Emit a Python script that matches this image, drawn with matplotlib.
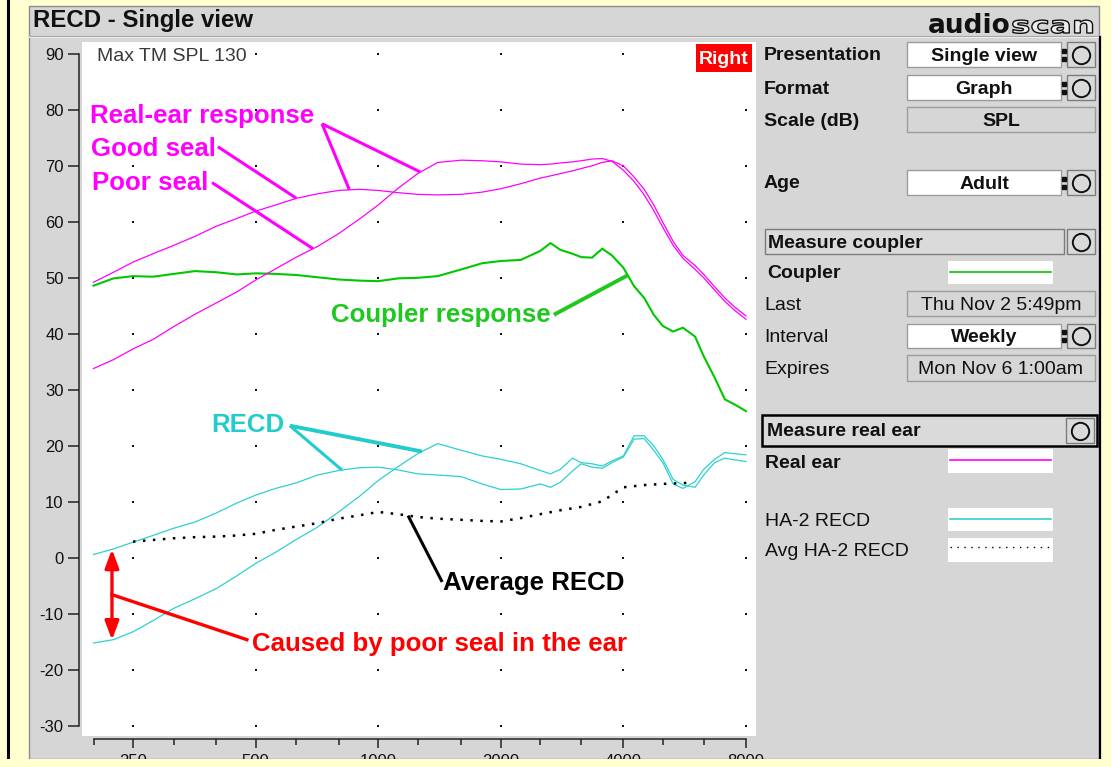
import numpy as np
import matplotlib
matplotlib.use("Agg")
import matplotlib.pyplot as plt
from matplotlib.patches import Rectangle, PathPatch
from matplotlib.lines import Line2D
from matplotlib.ticker import NullFormatter
from matplotlib.textpath import TextPath
from matplotlib.font_manager import FontProperties
from matplotlib.transforms import Affine2D

plt.rcParams['font.family'] = ['Liberation Sans', 'DejaVu Sans']
plt.rcParams['axes.unicode_minus'] = False

W, H = 1111, 767

# measurement frequencies (Hz)
freq = [200, 224, 250, 280, 315, 355, 400, 450, 500, 560,
        630, 710, 800, 900, 1000, 1120, 1250, 1400, 1600, 1800,
        2000, 2240, 2500, 2650, 2800, 3000, 3150, 3350, 3550, 3750,
        4000, 4250, 4500, 4750, 5000, 5300, 5600, 6000, 6300, 6700,
        7100, 7500, 8000]

# HA-2 coupler response (dB SPL)
coupler = [48.6, 49.9, 50.3, 50.2, 50.7, 51.2, 51.0, 50.6, 50.8, 50.7,
           50.5, 50.1, 49.7, 49.5, 49.4, 49.9, 50.0, 50.3, 51.5, 52.6,
           53.0, 53.2, 54.8, 56.2, 55.0, 54.3, 53.7, 53.6, 55.2, 54.0,
           51.8, 48.5, 46.4, 43.4, 41.4, 40.4, 41.1, 39.5, 36.0, 32.2,
           28.3, 27.4, 26.2]

# real-ear responses (dB SPL)
ear_good = [49.2, 51.0, 52.8, 54.3, 55.8, 57.4, 59.2, 60.6, 61.9, 63.0,
            64.2, 65.0, 65.6, 65.8, 65.6, 65.2, 64.9, 64.8, 64.9, 65.3,
            65.9, 66.8, 67.8, 68.2, 68.6, 69.1, 69.5, 70.0, 70.6, 70.9,
            70.0, 68.0, 65.8, 63.0, 59.9, 56.5, 54.0, 52.2, 50.6, 48.4,
            46.4, 44.8, 43.2]
ear_poor = [33.8, 35.4, 37.3, 39.0, 41.3, 43.5, 45.5, 47.5, 49.6, 51.6,
            53.7, 55.6, 57.9, 60.5, 63.0, 66.0, 68.6, 70.6, 71.0, 70.9,
            70.7, 70.3, 70.2, 70.3, 70.5, 70.7, 70.9, 71.2, 71.3, 70.8,
            69.2, 67.2, 64.8, 62.0, 59.0, 55.8, 53.5, 51.5, 50.0, 47.8,
            45.8, 44.2, 42.6]

# measured RECDs (dB)
recd_good = [0.6, 1.6, 2.8, 4.0, 5.3, 6.4, 8.0, 9.8, 11.2, 12.4,
             13.4, 14.8, 15.6, 16.1, 16.2, 15.7, 15.0, 14.8, 14.5, 13.2,
             12.2, 12.3, 13.2, 12.6, 13.5, 15.5, 16.8, 16.2, 16.0, 17.0,
             18.0, 21.2, 21.3, 19.2, 17.0, 13.2, 12.4, 13.6, 15.8, 17.6,
             18.8, 18.6, 18.4]
recd_poor = [-15.2, -14.6, -13.2, -11.2, -9.0, -7.3, -5.5, -3.2, -1.0, 1.0,
             3.3, 5.5, 8.2, 11.0, 13.8, 16.3, 18.6, 20.4, 19.2, 18.2,
             17.6, 16.8, 15.6, 15.0, 15.8, 17.8, 17.0, 16.8, 16.4, 17.3,
             18.2, 21.8, 21.8, 20.0, 17.6, 14.0, 13.0, 12.6, 14.8, 17.0,
             17.8, 17.5, 17.2]

# average HA-2 RECD
avg_freq = [250, 280, 315, 355, 400, 450, 500, 560, 630, 710,
            800, 900, 1000, 1120, 1250, 1400, 1600, 1800, 2000, 2240,
            2500, 2800, 3150, 3550, 4000, 4500, 5000, 5800]
avg_recd = [2.9, 3.2, 3.5, 3.7, 3.8, 4.0, 4.3, 5.0, 5.6, 6.2,
            7.0, 7.6, 8.2, 7.8, 7.3, 7.0, 6.8, 6.6, 6.5, 7.1,
            7.8, 8.5, 9.1, 10.1, 12.6, 13.0, 13.2, 13.4]

y_ticks = list(range(-30, 91, 10))
x_major = [250, 500, 1000, 2000, 4000, 8000]
x_minor = [200, 315, 400, 630, 800, 1250, 1600, 2500, 3150, 5000, 6300]

YELLOW = '#FFFFD0'
GRAY = '#D6D6D6'
MAGENTA = '#FF00FF'
CYAN = '#2ED0D0'
GREEN = '#00C800'

fig = plt.figure(figsize=(W / 100, H / 100), dpi=100, facecolor=YELLOW)


def fx(x):
    return x / W


def fy(y):
    return 1 - y / H


def frect(x0, y0, x1, y1, **kw):
    r = Rectangle((fx(x0), fy(y1)), (x1 - x0) / W, (y1 - y0) / H,
                  transform=fig.transFigure, **kw)
    fig.add_artist(r)
    return r


def fline(xs, ys, **kw):
    fig.add_artist(Line2D([fx(x) for x in xs], [fy(y) for y in ys],
                          transform=fig.transFigure, **kw))


def ftext(x, y, s, **kw):
    # text is placed slightly low so that its letters sit centred on y
    kw.setdefault('va', 'center')
    kw.setdefault('color', '#111111')
    return fig.text(fx(x), fy(y + 2), s, **kw)


# instrument frame
frect(29, 6, 1099, 759, facecolor=GRAY, edgecolor='#8C8C8C', lw=1, zorder=-5)
fline([7.5, 7.5], [0, 760], color='black', lw=2.2, zorder=-4)
fline([1099.5, 1099.5], [37, 760], color='black', lw=1.6, zorder=-4)
fline([30, 1098], [37, 37], color='#F6F6F6', lw=1.2, zorder=-4)
fline([30, 1098], [36, 36], color='#A8A8A8', lw=0.8, zorder=-4)
ftext(33, 19, 'RECD - Single view', fontsize=17.3, fontweight='bold')

# logo
fig.text(fx(928), fy(33), 'audio', va='baseline', fontsize=19, fontweight='bold',
         family='DejaVu Sans', color='#111111')
scan = TextPath((0, 0), 'scan', size=23,
                prop=FontProperties(family='DejaVu Sans', weight='bold'))
fig.add_artist(PathPatch(scan, transform=Affine2D().scale(1.42, 1.0).translate(1011, H - 33),
                         facecolor='#EDEDED', edgecolor='#111111', lw=1.0))

# graph
ax = fig.add_axes([fx(82), fy(736), (756 - 82) / W, (736 - 42) / H], facecolor='white')
ax.set_xscale('log')
ax.set_xlim(187.4, 8467)
ax.set_ylim(-31.8, 92.1)
for side in ('top', 'right'):
    ax.spines[side].set_visible(False)
for side in ('left', 'bottom'):
    ax.spines[side].set_position(('outward', 2.2))
    ax.spines[side].set_color('#222222')
    ax.spines[side].set_linewidth(1.1)
ax.spines['left'].set_bounds(-30, 90)
ax.spines['bottom'].set_bounds(200, 8000)
ax.set_yticks(y_ticks)
ax.set_xticks(x_major)
ax.set_xticklabels([str(v) for v in x_major])
ax.set_xticks(x_minor, minor=True)
ax.xaxis.set_minor_formatter(NullFormatter())
ax.tick_params(axis='y', length=8, width=1.1, pad=3, labelsize=12,
               color='#222222', labelcolor='#111111')
ax.tick_params(axis='x', which='major', length=6.5, width=1.1, pad=4.5,
               labelsize=12, color='#222222', labelcolor='#111111')
ax.tick_params(axis='x', which='minor', length=4.3, width=1.1, color='#222222')

gx, gy = np.meshgrid(x_major, y_ticks)
ax.scatter(gx.ravel(), gy.ravel(), s=4, marker='s', color='#111111', lw=0, zorder=2)

ax.plot(freq, coupler, color=GREEN, lw=1.5, zorder=3)
ax.plot(freq, ear_good, color=MAGENTA, lw=0.9, zorder=3)
ax.plot(freq, ear_poor, color=MAGENTA, lw=0.9, zorder=3)
ax.plot(freq, recd_good, color=CYAN, lw=0.9, zorder=3)
ax.plot(freq, recd_poor, color=CYAN, lw=0.9, zorder=3)
ax.plot(avg_freq, avg_recd, color='black', lw=1.8, dashes=(1, 3), zorder=3)

ax.text(0.022, 0.979, 'Max TM SPL 130', transform=ax.transAxes, fontsize=14,
        color='#3A3A3A', va='center', ha='left',
        bbox=dict(facecolor='white', edgecolor='none', pad=0), zorder=4)


def on_curve(f, fs, vals):
    return float(np.interp(np.log(f), np.log(fs), vals))


def pointer(start, f, fs, vals, color, lw=2.2):
    ax.plot([start[0], f], [start[1], on_curve(f, fs, vals)],
            color=color, lw=lw, solid_capstyle='butt', zorder=5)


label_kw = dict(fontsize=18.6, fontweight='bold', va='center', zorder=6)
dy = -0.35

ax.text(196, 79.3 + dy, 'Real-ear response', color=MAGENTA, ha='left', **label_kw)
pointer((728, 77.5), 850, freq, ear_good, MAGENTA)
pointer((728, 77.5), 1270, freq, ear_poor, MAGENTA)
ax.text(197, 73.4 + dy, 'Good seal', color=MAGENTA, ha='left', **label_kw)
pointer((404, 73.4), 630, freq, ear_good, MAGENTA)
ax.text(198, 67.3 + dy, 'Poor seal', color=MAGENTA, ha='left', **label_kw)
pointer((391, 67.0), 692, freq, ear_poor, MAGENTA)

ax.text(2656, 43.75 + dy, 'Coupler response', color='#1EC81E', ha='right', **label_kw)
pointer((2700, 43.4), 4100, freq, coupler, '#1EC81E', lw=2.8)

ax.text(590, 24.1 + dy, 'RECD', color='#22CCCC', ha='right', **label_kw)
pointer((607, 23.6), 815, freq, recd_good, '#22CCCC')
pointer((607, 23.6), 1281, freq, recd_poor, '#22CCCC', lw=2.8)

ax.text(1443, -4.1 + dy, 'Average RECD', color='black', ha='left', **label_kw)
pointer((1436, -4.3), 1184, avg_freq, avg_recd, 'black')

# seal gap arrow at the low end
f_arrow = 222
top = on_curve(f_arrow, freq, recd_good)
bottom = on_curve(f_arrow, freq, recd_poor)
ax.annotate('', xy=(f_arrow, top), xytext=(f_arrow, bottom),
            arrowprops=dict(arrowstyle='<|-|>,head_length=0.8,head_width=0.3',
                            color='#FF0000', lw=2.4, mutation_scale=14,
                            shrinkA=0, shrinkB=0), zorder=6)
ax.plot([f_arrow, 476], [(top + bottom) / 2, -14.6], color='#FF0000', lw=2.4, zorder=5)
ax.text(490, -15.0 + dy, 'Caused by poor seal in the ear', color='#FF0000', ha='left', **label_kw)

# ear side tag
frect(696, 44, 752, 72, facecolor='#FF0000', edgecolor='none', zorder=3)
ftext(724, 57, 'Right', ha='center', fontsize=14, fontweight='bold', color='white', zorder=4)


# control panel
def field(x0, y0, x1, y1, text, face='white', bold=True):
    frect(x0, y0, x1, y1, facecolor=face, edgecolor='#9C9C9C', lw=1)
    ftext((x0 + x1) / 2, (y0 + y1) / 2, text, ha='center', fontsize=14,
          fontweight='bold' if bold else 'normal')


def knob(x0, y0, x1, y1):
    frect(x0, y0, x1, y1, facecolor='#DADADA', edgecolor='#7C7C7C', lw=1)
    fline([(x0 + x1) / 2], [(y0 + y1) / 2], marker='o', ms=12.5, mfc='none',
          mec='#111111', mew=1.4)


def colon(x, y0, y1):
    cy = (y0 + y1) / 2
    fline([x, x], [cy - 4, cy + 4], ls='none', marker='s', ms=2.4, color='#111111')


def row_label(y, text, bold=True, x=764):
    ftext(x, y, text, ha='left', fontsize=14, fontweight='bold' if bold else 'normal')


row_label(54, 'Presentation')
field(907, 42, 1061, 67, 'Single view')
colon(1063.5, 42, 67)
knob(1067, 42, 1095, 67)

row_label(87, 'Format')
field(907, 75, 1061, 100, 'Graph')
colon(1063.5, 75, 100)
knob(1067, 75, 1095, 100)

row_label(120, 'Scale (dB)')
field(907, 107, 1095, 132, 'SPL', face=GRAY)

row_label(182, 'Age')
field(907, 170, 1061, 195, 'Adult')
colon(1063.5, 170, 195)
knob(1067, 170, 1095, 195)

frect(765, 229, 1064, 254, facecolor='#DADADA', edgecolor='#7C7C7C', lw=1)
ftext(768, 242, 'Measure coupler', ha='left', fontsize=14, fontweight='bold')
knob(1067, 229, 1095, 254)

row_label(272, 'Coupler', x=767)
frect(948, 261, 1053, 284, facecolor='white', edgecolor='none')
fline([950, 1051], [272, 272], color=GREEN, lw=1.2)

row_label(303, 'Last', bold=False)
field(907, 291, 1095, 316, 'Thu Nov 2 5:49pm', face=GRAY, bold=False)

row_label(336, 'Interval', bold=False)
field(907, 324, 1061, 348, 'Weekly')
colon(1063.5, 324, 348)
knob(1067, 324, 1095, 348)

row_label(368, 'Expires', bold=False)
field(907, 355, 1095, 381, 'Mon Nov 6 1:00am', face=GRAY, bold=False)

frect(762, 415, 1097, 446, facecolor='#DADADA', edgecolor='black', lw=1.8)
ftext(767, 430, 'Measure real ear', ha='left', fontsize=14, fontweight='bold')
knob(1066, 418, 1094, 443)

row_label(461, 'Real ear', x=765)
frect(948, 449, 1053, 473, facecolor='white', edgecolor='none')
fline([950, 1051], [460, 460], color=MAGENTA, lw=1.2)

row_label(520, 'HA-2 RECD', bold=False, x=765)
frect(948, 508, 1053, 531, facecolor='white', edgecolor='none')
fline([950, 1051], [519, 519], color=CYAN, lw=1.2)

row_label(549, 'Avg HA-2 RECD', bold=False, x=765)
frect(948, 538, 1053, 562, facecolor='white', edgecolor='none')
fline([950, 1051], [547, 547], color='black', lw=1.0, dashes=(1, 4))

# bottom strip of the outer border
frect(0, 759, W, H, facecolor=YELLOW, edgecolor='none', zorder=10)

fig.savefig('out.png', dpi=100, facecolor=YELLOW)
